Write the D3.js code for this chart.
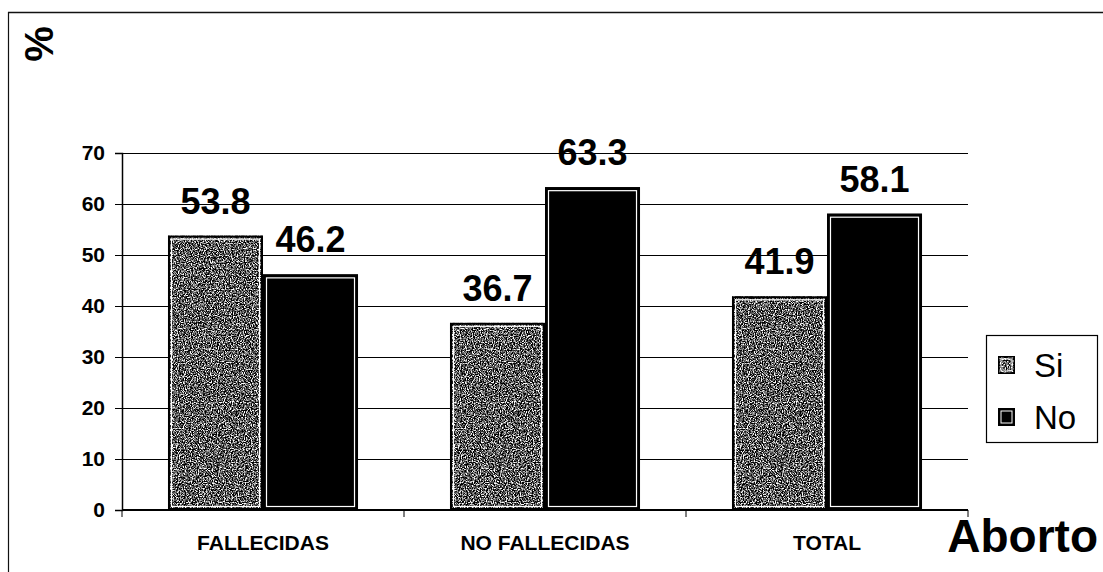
<!DOCTYPE html>
<html>
<head>
<meta charset="utf-8">
<script src="https://cdn.jsdelivr.net/npm/d3@7.9.0/dist/d3.min.js"></script>
<style>
  html, body { margin: 0; padding: 0; background: #fff; }
  svg { display: block; font-family: "Liberation Sans", Arial, sans-serif; }
</style>
</head>
<body>
<svg width="1103" height="572"></svg>
<script>
const categories = ['FALLECIDAS', 'NO FALLECIDAS', 'TOTAL'];
const series = ['Si', 'No'];
const siValues = [53.8, 36.7, 41.9];
const noValues = [46.2, 63.3, 58.1];
const yTicks = [0, 10, 20, 30, 40, 50, 60, 70];

const svg = d3.select('svg');
const plotLeft = 122, plotRight = 968, plotTop = 153, plotBottom = 510;

// speckled grey texture for the "Si" bars
const defs = svg.append('defs');
const f = defs.append('filter').attr('id', 'speckle')
    .attr('x', 0).attr('y', 0).attr('width', 1).attr('height', 1)
    .attr('color-interpolation-filters', 'sRGB');
f.append('feTurbulence').attr('type', 'fractalNoise')
    .attr('baseFrequency', 0.85).attr('numOctaves', 2).attr('seed', 3).attr('result', 'noise');
f.append('feColorMatrix').attr('in', 'noise').attr('type', 'matrix')
    .attr('values', '3.2 0 0 0 -1.25  3.2 0 0 0 -1.25  3.2 0 0 0 -1.25  0 0 0 0 1')
    .attr('result', 'dots');
f.append('feComposite').attr('in', 'dots').attr('in2', 'SourceGraphic')
    .attr('operator', 'in');

const y = d3.scaleLinear().domain([0, 70]).range([plotBottom, plotTop]);
const x0 = d3.scaleBand().domain(categories).range([plotLeft, plotRight]);
const x1 = d3.scaleBand().domain(series).range([0, x0.bandwidth()])
    .paddingInner(0).paddingOuter(0.484);

// outer frame (top and left only, as scanned)
svg.append('line').attr('x1', 8).attr('x2', 1103).attr('y1', 12.5).attr('y2', 12.5)
    .attr('stroke', '#111').attr('stroke-width', 1.5);
svg.append('line').attr('x1', 8.5).attr('x2', 8.5).attr('y1', 12).attr('y2', 572)
    .attr('stroke', '#111').attr('stroke-width', 1.2);

// gridlines
svg.append('g').selectAll('line').data(yTicks.filter(d => d > 0)).join('line')
    .attr('x1', plotLeft).attr('x2', plotRight)
    .attr('y1', d => Math.round(y(d)) + 0.5).attr('y2', d => Math.round(y(d)) + 0.5)
    .attr('stroke', '#000').attr('stroke-width', 1);

// y axis
const yAxis = svg.append('g').attr('transform', `translate(${plotLeft},0)`)
    .call(d3.axisLeft(y).tickValues(yTicks).tickSize(7).tickPadding(10));
yAxis.select('.domain').attr('stroke', '#000').attr('stroke-width', 1.5);
yAxis.selectAll('.tick line').attr('stroke', '#000');
yAxis.selectAll('.tick text').attr('font-size', 21).attr('font-weight', 'bold')
    .attr('fill', '#000').attr('font-family', '"Liberation Sans", Arial, sans-serif');

const data = categories.map((c, i) => ({ cat: c, Si: siValues[i], No: noValues[i] }));

const groups = svg.append('g').selectAll('g').data(data).join('g')
    .attr('transform', d => `translate(${x0(d.cat)},0)`);

const bars = groups.selectAll('g.bar')
    .data(d => series.map(s => ({ s, v: d[s] })))
    .join('g').attr('class', 'bar');

bars.append('rect')
    .attr('x', d => x1(d.s)).attr('y', d => y(d.v))
    .attr('width', x1.bandwidth()).attr('height', d => y(0) - y(d.v))
    .attr('fill', d => d.s === 'Si' ? '#8a8a8a' : '#000')
    .attr('filter', d => d.s === 'Si' ? 'url(#speckle)' : null);
bars.append('rect')
    .attr('x', d => x1(d.s) + 1).attr('y', d => y(d.v) + 1)
    .attr('width', x1.bandwidth() - 2).attr('height', d => y(0) - y(d.v) - 2)
    .attr('fill', 'none').attr('stroke', '#000').attr('stroke-width', 2);
bars.append('rect')
    .attr('x', d => x1(d.s) + 3.5).attr('y', d => y(d.v) + 3.5)
    .attr('width', x1.bandwidth() - 7).attr('height', d => y(0) - y(d.v) - 7)
    .attr('fill', 'none').attr('stroke', '#fff').attr('stroke-width', 1.2);

bars.append('text')
    .attr('x', d => x1(d.s) + x1.bandwidth() / 2)
    .attr('y', d => y(d.v) - 22)
    .attr('text-anchor', 'middle')
    .attr('font-size', 36).attr('font-weight', 'bold').attr('fill', '#000')
    .text(d => d.v.toFixed(1));

// x axis baseline with category separators
svg.append('line').attr('x1', plotLeft).attr('x2', plotRight)
    .attr('y1', plotBottom).attr('y2', plotBottom).attr('stroke', '#000').attr('stroke-width', 2);
svg.append('g').selectAll('line').data(categories.concat(['end'])).join('line')
    .attr('x1', (d, i) => i < categories.length ? x0(d) : plotRight)
    .attr('x2', (d, i) => i < categories.length ? x0(d) : plotRight)
    .attr('y1', plotBottom).attr('y2', plotBottom + 7).attr('stroke', '#000');

svg.append('g').selectAll('text').data(categories).join('text')
    .attr('x', d => x0(d) + x0.bandwidth() / 2).attr('y', 550)
    .attr('text-anchor', 'middle').attr('font-size', 21).attr('font-weight', 'bold')
    .text(d => d);

// axis titles
svg.append('text').attr('transform', 'translate(53,44) rotate(-90)')
    .attr('text-anchor', 'middle').attr('font-size', 40).attr('font-weight', 'bold')
    .text('%');
svg.append('text').attr('x', 1098).attr('y', 552).attr('text-anchor', 'end')
    .attr('font-size', 46).attr('font-weight', 'bold').text('Aborto');

// legend
const lg = svg.append('g');
lg.append('rect').attr('x', 986.5).attr('y', 335.5).attr('width', 111).attr('height', 107)
    .attr('fill', '#fff').attr('stroke', '#000').attr('stroke-width', 1.2);
const items = lg.selectAll('g').data(series).join('g')
    .attr('transform', (d, i) => `translate(998,${356 + i * 52})`);
items.append('rect').attr('width', 17).attr('height', 18)
    .attr('fill', d => d === 'Si' ? '#8a8a8a' : '#000')
    .attr('filter', d => d === 'Si' ? 'url(#speckle)' : null);
items.append('rect').attr('x', 0.75).attr('y', 0.75).attr('width', 15.5).attr('height', 16.5)
    .attr('fill', 'none').attr('stroke', '#000').attr('stroke-width', 1.5);
items.append('rect').attr('x', 3).attr('y', 3).attr('width', 11).attr('height', 12)
    .attr('fill', 'none').attr('stroke', '#fff').attr('stroke-width', 1);
items.append('text').attr('x', 36).attr('y', 21).attr('font-size', 33)
    .text(d => d);
</script>
</body>
</html>
